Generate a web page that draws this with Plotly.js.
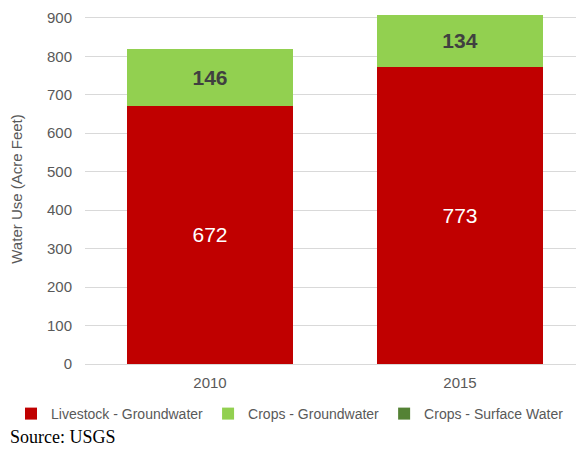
<!DOCTYPE html>
<html><head><meta charset="utf-8">
<script src="https://cdn.plot.ly/plotly-3.0.1.min.js"></script>
<style>html,body{margin:0;padding:0;background:#fff}#chart{width:576px;height:455px}</style>
</head><body><div id="chart"></div>
<script>
const years = ['2010', '2015'];
const livestockGW = [672, 773];
const cropsGW = [146, 134];
const cropsSW = [0, 0];
const seriesNames = ['Livestock - Groundwater', 'Crops - Groundwater', 'Crops - Surface Water'];
const yTicks = [0, 100, 200, 300, 400, 500, 600, 700, 800, 900];

const traces = [
  {type:'bar', name:seriesNames[0], x:years, y:livestockGW, marker:{color:'#C00000'},
   text:livestockGW.map(String), textposition:'inside', insidetextanchor:'middle',
   textfont:{family:'Liberation Sans, Arial, sans-serif', size:21, color:'#ffffff'}, hoverinfo:'none'},
  {type:'bar', name:seriesNames[1], x:years, y:cropsGW, marker:{color:'#92D050'},
   text:cropsGW.map(v=>'<b>'+v+'</b>'), textposition:'inside', insidetextanchor:'middle',
   textfont:{family:'Liberation Sans, Arial, sans-serif', size:21, color:'#404040'}, hoverinfo:'none'},
  {type:'bar', name:seriesNames[2], x:years, y:cropsSW, marker:{color:'#548235'},
   textposition:'none', hoverinfo:'none'}
];

const layout = {
  width:576, height:455,
  margin:{l:85, r:0, t:14, b:91},
  barmode:'stack', bargap:0.336,
  paper_bgcolor:'#fff', plot_bgcolor:'#fff',
  font:{family:'Liberation Sans, Arial, sans-serif', color:'#595959', size:15},
  showlegend:true,
  legend:{orientation:'h', traceorder:'normal', xref:'paper', yref:'paper',
          x:-74/491, xanchor:'left', y:-(414-364)/350, yanchor:'middle',
          font:{size:14, color:'#595959'}, itemwidth:30, tracegroupgap:0},
  xaxis:{type:'category', range:[-0.5, 1.464], showgrid:false, showline:false, zeroline:false,
         ticks:'', tickfont:{size:15, color:'#595959'}, ticklabelstandoff:8},
  yaxis:{range:[0, 910], tickvals:yTicks, showgrid:true, gridcolor:'#d9d9d9', gridwidth:1,
         zeroline:true, zerolinecolor:'#d9d9d9', showline:false, ticks:'',
         tickfont:{size:15, color:'#595959'}, ticklabelstandoff:12,
         title:{text:'Water Use (Acre Feet)', font:{size:15, color:'#595959'}, standoff:20}},
  annotations:[{text:'Source: USGS', xref:'paper', yref:'paper', x:-77/491, y:-73/350, xanchor:'left', yanchor:'middle',
    showarrow:false, font:{family:'Liberation Serif, Times New Roman, serif', size:18, color:'#000'}}]
};
Plotly.newPlot('chart', traces, layout, {displayModeBar:false, staticPlot:true});
</script></body></html>
